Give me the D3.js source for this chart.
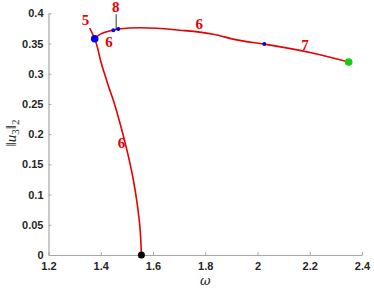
<!DOCTYPE html>
<html>
<head>
<meta charset="utf-8">
<script src="https://cdn.jsdelivr.net/npm/d3@7"></script>
<style>
  body { margin: 0; background: #fff; }
</style>
</head>
<body>
<div id="chart"></div>
<script>
// lower branch: from the black point up through the big blue point
var lowOmega = [1.5556, 1.5502, 1.5399, 1.5234, 1.5043, 1.4787, 1.4534, 1.4278, 1.4021, 1.3768, 1.3577]
var lowNorm  = [0, 0.0447, 0.0833, 0.1274, 0.166, 0.2102, 0.2488, 0.2819, 0.3173, 0.358, 0.3757]

// upper branch: from the big blue point out to the green end point
var upOmega = [1.3768, 1.397, 1.448, 1.467, 1.55, 1.703, 1.831, 1.92, 2.026, 2.214, 2.349]
var upNorm  = [0.358, 0.365, 0.372, 0.374, 0.376, 0.372, 0.3654, 0.356, 0.349, 0.334, 0.3195]

// special points
var smallBlueOmega = [1.448, 1.467, 2.026]
var smallBlueNorm  = [0.372, 0.374, 0.349]
var bigBlue = [1.3768, 0.358]
var blackPt = [1.5556, 0]
var greenPt = [2.349, 0.3195]

// segment labels
var segLabels = ["5", "6", "8", "6", "6", "7"]
var segOmega  = [1.342, 1.432, 1.457, 1.479, 1.777, 2.182]
var segNorm   = [0.389, 0.352, 0.41, 0.185, 0.382, 0.348]

var xTicks = [1.2, 1.4, 1.6, 1.8, 2, 2.2, 2.4]
var yTicks = [0, 0.05, 0.1, 0.15, 0.2, 0.25, 0.3, 0.35, 0.4]

var width = 374,
    height = 292

var x = d3.scaleLinear().domain([1.2, 2.4]).range([48.5, 362])
var y = d3.scaleLinear().domain([0, 0.4]).range([255, 13.3])

var svg = d3.select("#chart")
  .append("svg")
    .attr("width", width)
    .attr("height", height)
    .style("font-family", "Liberation Sans, Arial, sans-serif")

// axes (only left & bottom, ticks pointing inward)
var xAxis = svg.append("g")
  .attr("transform", "translate(0," + y(0) + ")")
  .call(d3.axisBottom(x).tickValues(xTicks).tickSizeInner(-3).tickSizeOuter(0).tickPadding(7)
    .tickFormat(function(d){ return d3.format("")(d) }))
var yAxis = svg.append("g")
  .attr("transform", "translate(" + x(1.2) + ",0)")
  .call(d3.axisLeft(y).tickValues(yTicks).tickSizeInner(-3).tickSizeOuter(0).tickPadding(5)
    .tickFormat(function(d){ return d3.format("")(d) }))

;[xAxis, yAxis].forEach(function(g){
  g.select(".domain").attr("stroke", "#a6a6a6").attr("stroke-width", 1.2)
  g.selectAll(".tick line").attr("stroke", "#a6a6a6")
  g.selectAll(".tick text")
    .attr("fill", "#262626")
    .style("font-size", "11px")
    .style("font-weight", "bold")
})

// axis labels
svg.append("text")
  .attr("x", x(1.8))
  .attr("y", 285)
  .attr("text-anchor", "middle")
  .style("font-family", "DejaVu Serif, serif")
  .style("font-style", "italic")
  .style("font-size", "13px")
  .attr("fill", "#262626")
  .text("ω")

var ylab = svg.append("text")
  .attr("transform", "translate(16," + 133 + ") rotate(-90)")
  .attr("text-anchor", "middle")
  .style("font-family", "Liberation Serif, serif")
  .style("font-size", "15px")
  .attr("fill", "#262626")
ylab.append("tspan").text("\u2016")
ylab.append("tspan").style("font-style", "italic").text("u")
ylab.append("tspan").attr("font-size", "11px").attr("dy", 3).text("3")
ylab.append("tspan").attr("dy", -3).text("\u2016")
ylab.append("tspan").attr("font-size", "11px").attr("dy", 3).text("2")

// curves
var line = d3.line()
  .x(function(d){ return x(d[0]) })
  .y(function(d){ return y(d[1]) })

svg.append("path")
  .datum(d3.zip(lowOmega, lowNorm))
  .attr("d", line.curve(d3.curveMonotoneY))
  .attr("fill", "none")
  .attr("stroke", "#e60000")
  .attr("stroke-width", 1.6)

svg.append("path")
  .datum(d3.zip(upOmega, upNorm))
  .attr("d", line.curve(d3.curveMonotoneX))
  .attr("fill", "none")
  .attr("stroke", "#e60000")
  .attr("stroke-width", 1.6)

// pointer line from "8" down to the fold point
svg.append("line")
  .attr("x1", x(segOmega[2]) + 0.5).attr("x2", x(segOmega[2]) + 0.5)
  .attr("y1", y(segNorm[2]) + 7)
  .attr("y2", y(smallBlueNorm[0]) - 1)
  .attr("stroke", "#333")
  .attr("stroke-width", 1)

// points
svg.selectAll("smallDots")
  .data(d3.zip(smallBlueOmega, smallBlueNorm))
  .enter()
  .append("circle")
    .attr("cx", function(d){ return x(d[0]) })
    .attr("cy", function(d){ return y(d[1]) })
    .attr("r", 2)
    .attr("fill", "#0000ee")

svg.append("circle").attr("cx", x(bigBlue[0])).attr("cy", y(bigBlue[1])).attr("r", 3.8).attr("fill", "#0000ee")
svg.append("circle").attr("cx", x(blackPt[0])).attr("cy", y(blackPt[1])).attr("r", 3.5).attr("fill", "#000")
svg.append("circle").attr("cx", x(greenPt[0])).attr("cy", y(greenPt[1])).attr("r", 3.8).attr("fill", "#11cc11")

// segment labels
svg.selectAll("segLabels")
  .data(segLabels)
  .enter()
  .append("text")
    .attr("x", function(d, i){ return x(segOmega[i]) })
    .attr("y", function(d, i){ return y(segNorm[i]) })
    .attr("text-anchor", "middle")
    .attr("dominant-baseline", "central")
    .style("font-family", "Liberation Serif, serif")
    .style("font-weight", "bold")
    .style("font-size", "15px")
    .attr("fill", "#e60000")
    .text(function(d){ return d })
</script>
</body>
</html>
